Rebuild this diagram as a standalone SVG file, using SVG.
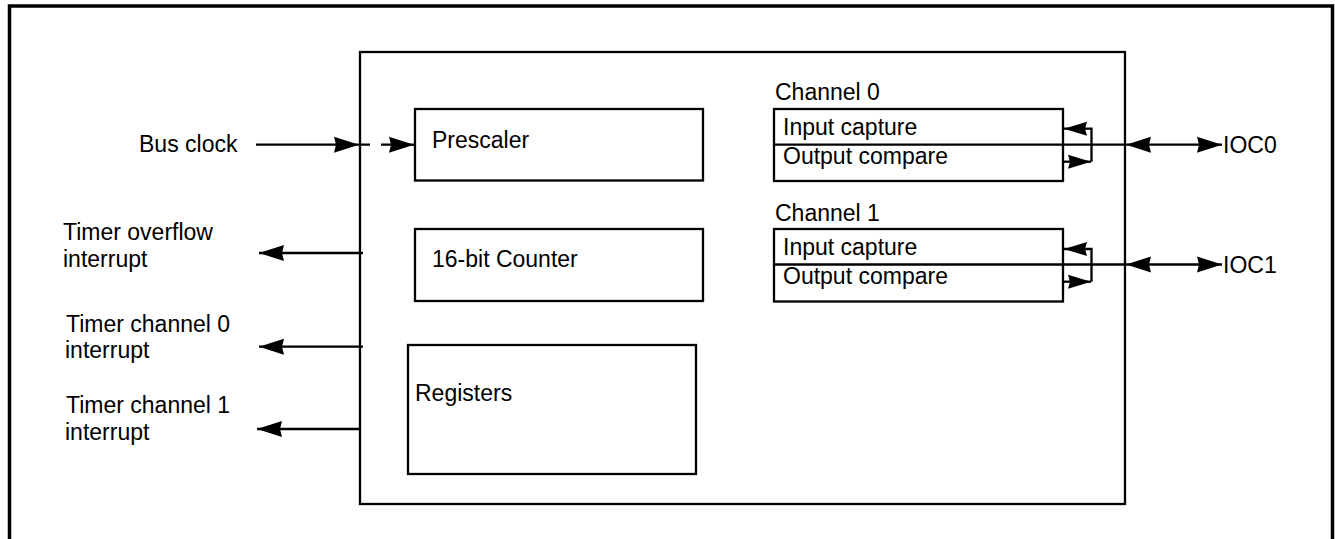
<svg xmlns="http://www.w3.org/2000/svg" width="1335" height="539" viewBox="0 0 1335 539">
<style>
  text { font-family: "Liberation Sans", Arial, sans-serif; font-size: 23px; fill: #000; }
  .box { fill: #fff; stroke: #000; stroke-width: 2.3; }
  .ln { fill: none; stroke: #000; stroke-width: 2.3; }
</style>
<defs>
  <marker id="ah" markerUnits="userSpaceOnUse" markerWidth="26" markerHeight="17" refX="25" refY="8.5" orient="auto-start-reverse" viewBox="0 0 26 17">
    <path d="M0,0.5 L25,8.5 L0,16.5 L2,8.5 Z" fill="#000"/>
  </marker>
  <marker id="ahs" markerUnits="userSpaceOnUse" markerWidth="24" markerHeight="15" refX="23" refY="7.5" orient="auto-start-reverse" viewBox="0 0 24 15">
    <path d="M0,0.5 L23,7.5 L0,14.5 L2,7.5 Z" fill="#000"/>
  </marker>
</defs>
<rect width="1335" height="539" fill="#fff"/>
<rect x="9.5" y="6" width="1323" height="620" fill="none" stroke="#000" stroke-width="3.5"/>

<g id="main">
  <rect class="box" x="360" y="52" width="765" height="452"/>
</g>
<g id="prescaler">
  <rect class="box" x="415" y="109" width="288" height="71.5"/>
  <text x="432" y="147.5">Prescaler</text>
</g>
<g id="counter">
  <rect class="box" x="415" y="229" width="288" height="72"/>
  <text x="432" y="266.5">16-bit Counter</text>
</g>
<g id="registers">
  <rect class="box" x="408" y="345" width="288" height="129"/>
  <text x="415" y="400.5">Registers</text>
</g>
<g id="channel0">
  <text x="775" y="99.5">Channel 0</text>
  <rect class="box" x="774" y="109" width="289" height="72"/>
  <line class="ln" x1="774" y1="144.7" x2="1063" y2="144.7"/>
  <text x="783" y="134.5">Input capture</text>
  <text x="783" y="164">Output compare</text>
</g>
<g id="channel1">
  <text x="775" y="220.5">Channel 1</text>
  <rect class="box" x="774" y="229" width="289" height="72.5"/>
  <line class="ln" x1="774" y1="264.5" x2="1063" y2="264.5"/>
  <text x="783" y="255">Input capture</text>
  <text x="783" y="284">Output compare</text>
</g>
<g id="labels">
  <text x="139" y="152">Bus clock</text>
  <text x="63" y="240">Timer overflow</text>
  <text x="63" y="266.5">interrupt</text>
  <text x="66" y="331.5">Timer channel 0</text>
  <text x="65" y="358">interrupt</text>
  <text x="66" y="413">Timer channel 1</text>
  <text x="65" y="440">interrupt</text>
  <text x="1223" y="152.5">IOC0</text>
  <text x="1223" y="272.5">IOC1</text>
</g>
<g id="connectors">
  <line class="ln" x1="256" y1="144.7" x2="359" y2="144.7" marker-end="url(#ah)"/>
  <line class="ln" x1="360" y1="144.7" x2="395" y2="144.7" stroke-dasharray="10 11"/>
  <line class="ln" x1="395" y1="144.7" x2="414" y2="144.7" marker-end="url(#ah)"/>

  <line class="ln" x1="363" y1="253" x2="259" y2="253" marker-end="url(#ah)"/>
  <line class="ln" x1="363" y1="346.7" x2="259" y2="346.7" marker-end="url(#ah)"/>
  <line class="ln" x1="360" y1="429" x2="257" y2="429" marker-end="url(#ah)"/>

  <line class="ln" x1="1063" y1="144.7" x2="1125" y2="144.7"/>
  <polyline class="ln" points="1091.5,161.7 1091.5,128.7 1064,128.7" marker-end="url(#ahs)"/>
  <line class="ln" x1="1063" y1="161.7" x2="1091" y2="161.7" marker-end="url(#ahs)"/>
  <line class="ln" x1="1126" y1="144.7" x2="1222" y2="144.7" marker-start="url(#ah)" marker-end="url(#ah)"/>

  <line class="ln" x1="1063" y1="264.5" x2="1125" y2="264.5"/>
  <polyline class="ln" points="1091.5,281.7 1091.5,249 1064,249" marker-end="url(#ahs)"/>
  <line class="ln" x1="1063" y1="281.7" x2="1091" y2="281.7" marker-end="url(#ahs)"/>
  <line class="ln" x1="1126" y1="264.5" x2="1222" y2="264.5" marker-start="url(#ah)" marker-end="url(#ah)"/>
</g>
</svg>
